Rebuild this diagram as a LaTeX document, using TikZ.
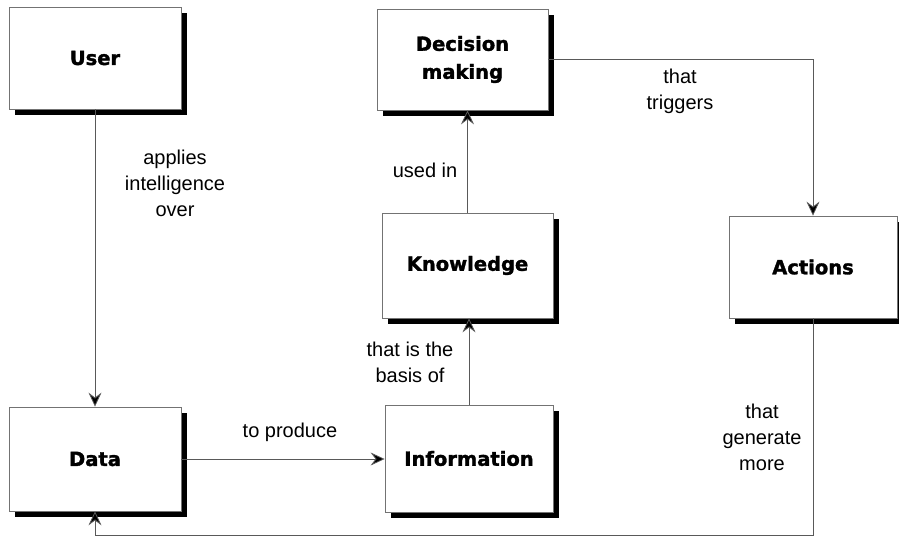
\documentclass[tikz,border=0pt]{standalone}
\usepackage{fontspec}
\setmainfont{Liberation Sans}
\newfontfamily\boxfont{DejaVu Sans}[BoldFeatures={FakeBold=1.6}]
\usetikzlibrary{arrows.meta,shadows}
\tikzset{
  box/.style={draw=black!55, line width=0.8pt, fill=white, rectangle, inner sep=0pt,
    align=center, font=\boxfont\bfseries\fontsize{19.5}{28}\selectfont,
    drop shadow={shadow xshift=6pt, shadow yshift=-6pt, fill=black, opacity=1}},
  conn/.style={draw=black!65, line width=0.8pt, -{Stealth[length=14pt,width=13pt,inset=5pt,fill=black]}},
  lbl/.style={align=center, inner sep=0pt, font=\fontsize{20}{26}\selectfont}
}
\begin{document}
\begin{tikzpicture}[x=1pt,y=-1pt]
\useasboundingbox[fill=white] (0,0) rectangle (899,537);
\node[box, minimum width=172pt, minimum height=102pt] (user) at (95,58) {User};
\node[box, minimum width=171pt, minimum height=101pt] (dec) at (462.5,59.5) {Decision\\making};
\node[box, minimum width=171pt, minimum height=105pt] (know) at (467.5,265.5) {Knowledge};
\node[box, minimum width=168pt, minimum height=102pt] (act) at (813,267) {Actions};
\node[box, minimum width=172pt, minimum height=104pt] (data) at (95,459) {Data};
\node[box, minimum width=168pt, minimum height=107pt] (info) at (469,458.5) {Information};
\coordinate (bot) at (813,535);
\draw[conn] (user) -- (data);
\draw[conn] (data.east) -- (data.east -| info.west);
\draw[conn] (info.north) -- (info.north |- know.south);
\draw[conn] (know.north) -- (know.north |- dec.south);
\draw[conn] (dec.east) -| (act.north);
\draw[conn] (act.south) -- (bot) -| (data.south);
\node[lbl] (l1) at (175,183) {applies\\intelligence\\over};
\node[lbl] (l2) at (290,432) {to produce};
\node[lbl] (l3) at (410,362) {that is the\\basis of};
\node[lbl] (l4) at (425,170) {used in};
\node[lbl] (l5) at (680,91) {that\\triggers};
\node[lbl] (l6) at (762,437) {that\\generate\\more};
\end{tikzpicture}
\end{document}
